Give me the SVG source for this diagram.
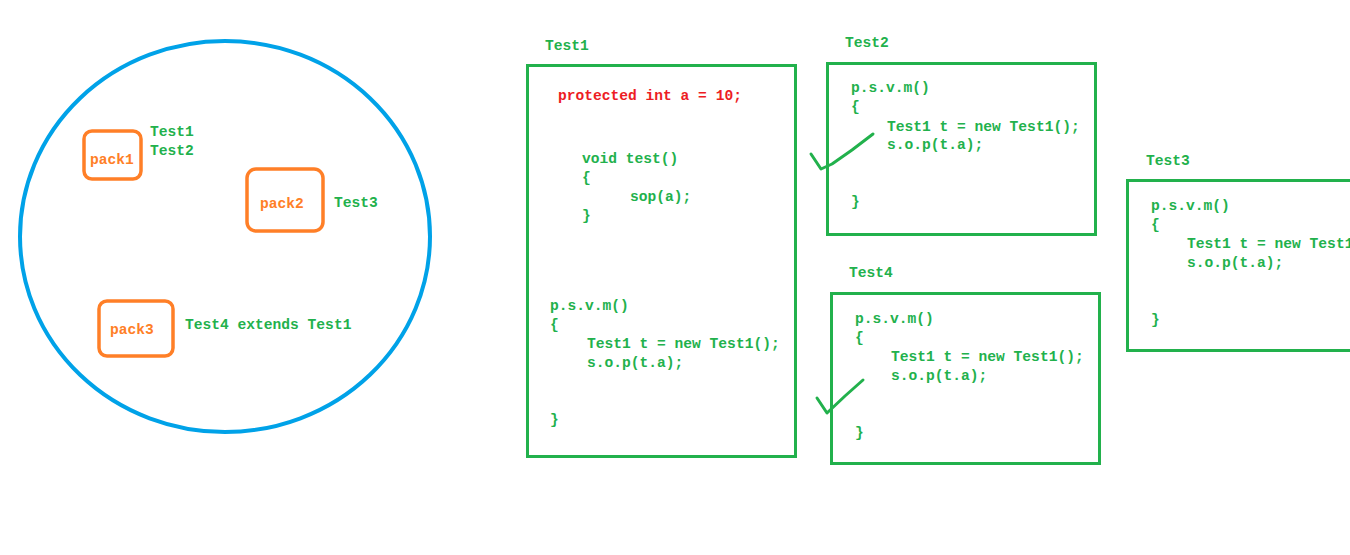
<svg xmlns="http://www.w3.org/2000/svg" width="1350" height="555" viewBox="0 0 1350 555">
<style>
text{font-family:"Liberation Mono","DejaVu Sans Mono",monospace;font-size:14.6px;font-weight:bold;fill:#22b14c}
.red{fill:#ed1c24}
.or{fill:#ff7f27}
.pk{fill:none;stroke:#ff7f27;stroke-width:3.5}
.box{fill:none;stroke:#22b14c;stroke-width:3}
.chk{fill:none;stroke:#22b14c;stroke-width:3;stroke-linecap:round;stroke-linejoin:round}
</style>
<rect width="1350" height="555" fill="#ffffff"/>
<g id="world">
<ellipse cx="225" cy="236.5" rx="205" ry="195.5" fill="none" stroke="#00a2e8" stroke-width="4"/>
</g>
<g id="pack1">
<rect class="pk" x="84" y="131" width="57" height="48" rx="8"/>
<text class="or" x="90" y="164">pack1</text>
<text x="150" y="136">Test1</text>
<text x="150" y="155">Test2</text>
</g>
<g id="pack2">
<rect class="pk" x="247" y="169" width="76" height="62" rx="9"/>
<text class="or" x="260" y="208">pack2</text>
<text x="334" y="207">Test3</text>
</g>
<g id="pack3">
<rect class="pk" x="99" y="301" width="74" height="55" rx="8"/>
<text class="or" x="110" y="334">pack3</text>
<text x="185" y="329">Test4 extends Test1</text>
</g>
<g id="test1">
<text x="545" y="50">Test1</text>
<rect class="box" x="527.5" y="65.5" width="268" height="391"/>
<text class="red" x="558" y="100">protected int a = 10;</text>
<text x="582" y="163">void test()</text>
<text x="582" y="182">{</text>
<text x="630" y="201">sop(a);</text>
<text x="582" y="220">}</text>
<text x="550" y="310">p.s.v.m()</text>
<text x="550" y="329">{</text>
<text x="587" y="348">Test1 t = new Test1();</text>
<text x="587" y="367">s.o.p(t.a);</text>
<text x="550" y="424">}</text>
</g>
<g id="test2">
<text x="845" y="47">Test2</text>
<rect class="box" x="827.5" y="63.5" width="268" height="171"/>
<text x="851" y="92">p.s.v.m()</text>
<text x="851" y="111">{</text>
<text x="887" y="131">Test1 t = new Test1();</text>
<text x="887" y="149">s.o.p(t.a);</text>
<text x="851" y="206">}</text>
</g>
<g id="test4">
<text x="849" y="277">Test4</text>
<rect class="box" x="831.5" y="293.5" width="268" height="170"/>
<text x="855" y="323">p.s.v.m()</text>
<text x="855" y="342">{</text>
<text x="891" y="361">Test1 t = new Test1();</text>
<text x="891" y="380">s.o.p(t.a);</text>
<text x="855" y="437">}</text>
</g>
<g id="test3">
<text x="1146" y="165">Test3</text>
<rect class="box" x="1127.5" y="180.5" width="240" height="170"/>
<text x="1151" y="210">p.s.v.m()</text>
<text x="1151" y="229">{</text>
<text x="1187" y="248">Test1 t = new Test1();</text>
<text x="1187" y="267">s.o.p(t.a);</text>
<text x="1151" y="324">}</text>
</g>
<g id="connectors">
<path class="chk" d="M811,154 L821,169 L832,164 L852,150 L873,134"/>
<path class="chk" d="M817,398 L827,413 L845,396 L863,380"/>
</g>
</svg>
